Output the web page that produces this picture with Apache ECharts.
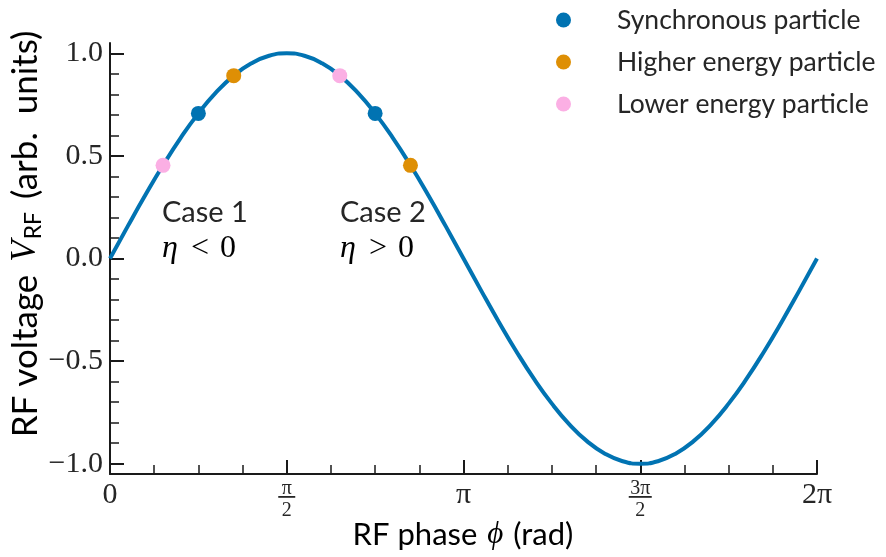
<!DOCTYPE html>
<html>
<head>
<meta charset="utf-8">
<script src="https://cdn.jsdelivr.net/npm/echarts@6/dist/echarts.min.js"></script>
<style>html,body{margin:0;padding:0;background:#fff}#c{width:886px;height:557px}</style>
</head>
<body>
<div id="c"></div>
<script>
// Phase in units of pi, and RF voltage
var phase = [0,0.05,0.1,0.15,0.2,0.25,0.3,0.35,0.4,0.45,0.5,0.55,0.6,0.65,0.7,0.75,0.8,0.85,0.9,0.95,1.0,
             1.05,1.1,1.15,1.2,1.25,1.3,1.35,1.4,1.45,1.5,1.55,1.6,1.65,1.7,1.75,1.8,1.85,1.9,1.95,2.0];
var voltage = [0,0.1564,0.309,0.454,0.5878,0.7071,0.809,0.891,0.9511,0.9877,1,0.9877,0.9511,0.891,0.809,0.7071,0.5878,0.454,0.309,0.1564,0,
               -0.1564,-0.309,-0.454,-0.5878,-0.7071,-0.809,-0.891,-0.9511,-0.9877,-1,-0.9877,-0.9511,-0.891,-0.809,-0.7071,-0.5878,-0.454,-0.309,-0.1564,0];
var syncPhase = [0.25, 0.75];   var syncV = [0.7071, 0.7071];
var highPhase = [0.35, 0.85];   var highV = [0.891, 0.454];
var lowPhase  = [0.15, 0.65];   var lowV  = [0.454, 0.891];
var seriesNames = ['Synchronous particle', 'Higher energy particle', 'Lower energy particle'];
var xTickLabels = {0: '0', 0.5: 'π/2', 1: 'π', 1.5: '3π/2', 2: '2π'};
var fractionTicks = [0.5, 1.5];

function pairs(xs, ys){ return xs.map(function(x,i){ return [x, ys[i]]; }); }

var SERIF = '"Liberation Serif", "DejaVu Serif", serif';
var SANS = 'Lato, "Noto Sans", sans-serif';
var TXT = '#262626';
var AX = '#1a1a1a';
var GRID_LEFT = 110, GRID_RIGHT = 69, X_MIN = 0, X_MAX = 2;

var mathRich = {
  i: {fontFamily: SERIF, fontStyle: 'italic', fontSize: 32, color: TXT},
  op: {fontFamily: SERIF, fontSize: 32, color: TXT, padding: [0, 11, 0, 13]},
  r: {fontFamily: SERIF, fontSize: 32, color: TXT}
};

var chart = echarts.init(document.getElementById('c'), null, {renderer: 'canvas'});

// fraction bars under the pi/2 and 3pi/2 tick labels, placed from the axis layout
var plotWidth = chart.getWidth() - GRID_LEFT - GRID_RIGHT;
var barWidths = [17, 23];
var bars = fractionTicks.map(function(v, i){
  var px = GRID_LEFT + (v - X_MIN) / (X_MAX - X_MIN) * plotWidth;
  return {id: 'fracbar' + i, type: 'rect', silent: true, z: 100,
    shape: {x: px - barWidths[i] / 2, y: 496, width: barWidths[i], height: 1.8},
    style: {fill: TXT}};
});

var option = {
  animation: false,
  backgroundColor: '#fff',
  grid: [
    {left: GRID_LEFT, right: GRID_RIGHT, top: 43, bottom: 83},
    {left: GRID_LEFT, right: GRID_RIGHT, top: 53.26, bottom: 93.26}
  ],
  xAxis: [{
    gridIndex: 0, type: 'value', min: X_MIN, max: X_MAX, interval: 0.5,
    axisLine: {show: true, onZero: false, lineStyle: {color: AX, width: 2}},
    axisTick: {show: true, inside: true, length: 14, lineStyle: {color: AX, width: 2}},
    minorTick: {show: true, splitNumber: 4, length: 9, lineStyle: {color: AX, width: 1.5}},
    splitLine: {show: false},
    axisLabel: {
      margin: 5,
      formatter: function(v){
        var t = xTickLabels[v];
        if (t === 'π/2') return '{n|π}\n{d|2}';
        if (t === '3π/2') return '{n|3π}\n{d|2}';
        return '{b|' + t + '}';
      },
      rich: {
        b: {fontFamily: SERIF, fontSize: 30, color: TXT, lineHeight: 32},
        n: {fontFamily: SERIF, fontSize: 20, color: TXT, lineHeight: 19, align: 'center'},
        d: {fontFamily: SERIF, fontSize: 20, color: TXT, lineHeight: 22, padding: [3, 0, 0, 0], align: 'center'}
      }
    }
  }, {
    gridIndex: 1, type: 'value', min: X_MIN, max: X_MAX, show: false
  }],
  yAxis: [{
    gridIndex: 0, type: 'value', min: -1.05, max: 1.05,
    axisLine: {show: true, onZero: false, lineStyle: {color: AX, width: 2}},
    axisTick: {show: false}, axisLabel: {show: false}, splitLine: {show: false}
  }, {
    gridIndex: 1, type: 'value', min: -1, max: 1, interval: 0.5,
    axisLine: {show: false},
    axisTick: {show: true, inside: true, length: 14, lineStyle: {color: AX, width: 2}},
    minorTick: {show: true, splitNumber: 5, length: 9, lineStyle: {color: AX, width: 1.5}},
    splitLine: {show: false},
    axisLabel: {
      margin: 7, fontFamily: SERIF, fontSize: 30, color: TXT,
      formatter: function(v){ return (v < 0 ? '\u2212' : '') + Math.abs(v).toFixed(1); }
    }
  }],
  legend: {
    orient: 'vertical', left: 551, top: 0, itemWidth: 15, itemHeight: 15, itemGap: 12,
    icon: 'circle',
    data: seriesNames,
    textStyle: {fontFamily: SANS, fontSize: 26.5, color: TXT, lineHeight: 30, padding: [0, 0, 0, 41]}
  },
  series: [{
    type: 'line', xAxisIndex: 0, yAxisIndex: 0, data: pairs(phase, voltage),
    smooth: true, showSymbol: false, silent: true,
    lineStyle: {color: '#0173b2', width: 4}, z: 2
  }, {
    name: seriesNames[0], type: 'scatter', xAxisIndex: 0, yAxisIndex: 0,
    data: pairs(syncPhase, syncV), symbolSize: 15, itemStyle: {color: '#0173b2', opacity: 1}, z: 5
  }, {
    name: seriesNames[1], type: 'scatter', xAxisIndex: 0, yAxisIndex: 0,
    data: pairs(highPhase, highV), symbolSize: 15, itemStyle: {color: '#de8f05', opacity: 1}, z: 5
  }, {
    name: seriesNames[2], type: 'scatter', xAxisIndex: 0, yAxisIndex: 0,
    data: pairs(lowPhase, lowV), symbolSize: 15, itemStyle: {color: '#fbafe4', opacity: 1}, z: 5
  }],
  graphic: [
    {id: 'case1', type: 'text', left: 162, top: 198, style: {text: 'Case 1', font: '29px ' + SANS, fill: TXT}},
    {id: 'case2', type: 'text', left: 340, top: 198, style: {text: 'Case 2', font: '29px ' + SANS, fill: TXT}},
    {id: 'eta1', type: 'text', left: 162, top: 233, style: {text: '{i|η}{op|<}{r|0}', rich: mathRich}},
    {id: 'eta2', type: 'text', left: 340, top: 233, style: {text: '{i|η}{op|>}{r|0}', rich: mathRich}},
    {id: 'xname', type: 'text', x: 463, y: 535, style: {
      text: '{s|RF phase }{i|ϕ}{s| (rad)}', align: 'center', verticalAlign: 'middle',
      rich: {
        s: {fontFamily: SANS, fontSize: 31, color: TXT},
        i: {fontFamily: SERIF, fontStyle: 'italic', fontSize: 31, color: TXT, padding: [0, 2, 0, 2]}
      }}},
    {id: 'yname', type: 'text', x: 26, y: 234, rotation: Math.PI / 2, style: {
      text: '{s|RF voltage }{i|V}{sub|RF}{s| (arb.  units)}', align: 'center', verticalAlign: 'middle',
      rich: {
        s: {fontFamily: SANS, fontSize: 35, color: TXT},
        i: {fontFamily: SERIF, fontStyle: 'italic', fontSize: 35, color: TXT, padding: [0, 1, 0, 4]},
        sub: {fontFamily: SANS, fontSize: 23, color: TXT, padding: [15, 4, 0, 0]}
      }}}
  ].concat(bars)
};
chart.setOption(option);
</script>
</body>
</html>
